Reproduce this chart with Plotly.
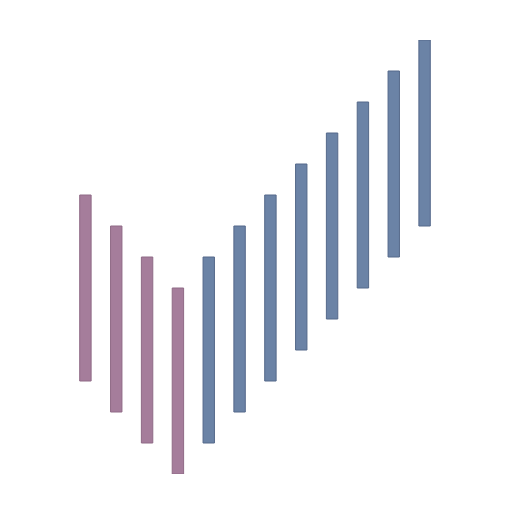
import plotly.graph_objects as go

categories = [str(i) for i in range(1, 13)]
bottoms = [3, 2, 1, 0, 1, 2, 3, 4, 5, 6, 7, 8]
tops = [9, 8, 7, 6, 7, 8, 9, 10, 11, 12, 13, 14]
groups = ["down"] * 4 + ["up"] * 8

colors = {"down": "#a57d9b", "up": "#6b83a6"}
edges = {"down": "#8f6a86", "up": "#55698a"}

fig = go.Figure(
    go.Bar(
        x=categories,
        y=[t - b for t, b in zip(tops, bottoms)],
        base=bottoms,
        width=0.37,
        marker=dict(
            color=[colors[g] for g in groups],
            line=dict(color=[edges[g] for g in groups], width=1),
        ),
    )
)

# page body adds an 8px offset, so margins are shifted to compensate
fig.update_layout(
    width=512,
    height=512,
    margin=dict(l=62, r=80, t=32, b=46),
    paper_bgcolor="white",
    plot_bgcolor="white",
    showlegend=False,
)
fig.update_xaxes(visible=False, range=[-0.5, 11.5])
fig.update_yaxes(visible=False, range=[0, 14])

fig.write_html("out.html")
